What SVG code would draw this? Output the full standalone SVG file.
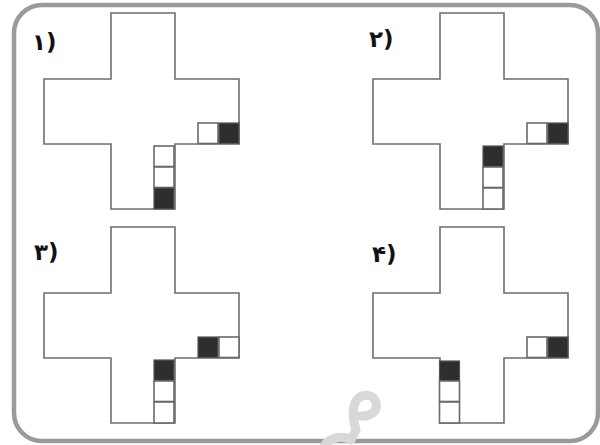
<svg xmlns="http://www.w3.org/2000/svg" width="600" height="445" viewBox="0 0 600 445">
<style>
.frame{fill:#fff;stroke:#9a9a9a;stroke-width:4.5}
.cross{fill:#fff;stroke:#6e6e6e;stroke-width:1.6}
.w{fill:#fff;stroke:#6a6a6a;stroke-width:1.6}
.d{fill:#2e2e2e;stroke:#555;stroke-width:1.2}
.lbl{font-family:"DejaVu Sans",sans-serif;font-weight:bold;font-size:23px;fill:#111}
.wm{fill:none;stroke:#d8d8d8;stroke-width:9;stroke-linecap:round;stroke-linejoin:round}
</style>
<defs>
<path id="cross" d="M111,13 H175 V79 H239 V144 H175 V209 H111 V144 H44 V79 H111 Z"/>
</defs>
<rect class="frame" x="14" y="5" width="584" height="436" rx="28" ry="28"/>
<path class="wm" d="M324,446 C330,437 343,435 351,440 L356,430 C353,420 352,408 356,401 C361,393 374,393 376,403 C378,411 371,417 359,416"/>
<g id="panel-1">
<use href="#cross" class="cross"/>
<rect class="w" x="198" y="123" width="20" height="20.5"/>
<rect class="d" x="219" y="123" width="20" height="20.5"/>
<rect class="w" x="154" y="146" width="20" height="20.5"/>
<rect class="w" x="154" y="167" width="20" height="20.5"/>
<rect class="d" x="154" y="188" width="20" height="21"/>
<text class="lbl" x="32" y="50">۱)</text>
</g>
<g id="panel-2" transform="translate(329,0)">
<use href="#cross" class="cross"/>
<rect class="w" x="198" y="123" width="20" height="20.5"/>
<rect class="d" x="219" y="123" width="20" height="20.5"/>
<rect class="d" x="154" y="146" width="20" height="20.5"/>
<rect class="w" x="154" y="167" width="20" height="20.5"/>
<rect class="w" x="154" y="188" width="20" height="21"/>
<text class="lbl" x="40" y="47">۲)</text>
</g>
<g id="panel-3" transform="translate(0,214)">
<use href="#cross" class="cross"/>
<rect class="d" x="198" y="123" width="20" height="20.5"/>
<rect class="w" x="219" y="123" width="20" height="20.5"/>
<rect class="d" x="154" y="146" width="20" height="20.5"/>
<rect class="w" x="154" y="167" width="20" height="20.5"/>
<rect class="w" x="154" y="188" width="20" height="21"/>
<text class="lbl" x="34" y="46">۳)</text>
</g>
<g id="panel-4" transform="translate(329,214)">
<use href="#cross" class="cross"/>
<rect class="w" x="198" y="123" width="20" height="20.5"/>
<rect class="d" x="219" y="123" width="20" height="20.5"/>
<rect class="d" x="110.5" y="147" width="20" height="20"/>
<rect class="w" x="110.5" y="167" width="20" height="20.5"/>
<rect class="w" x="110.5" y="188" width="20" height="21"/>
<text class="lbl" x="43" y="48">۴)</text>
</g>
</svg>
